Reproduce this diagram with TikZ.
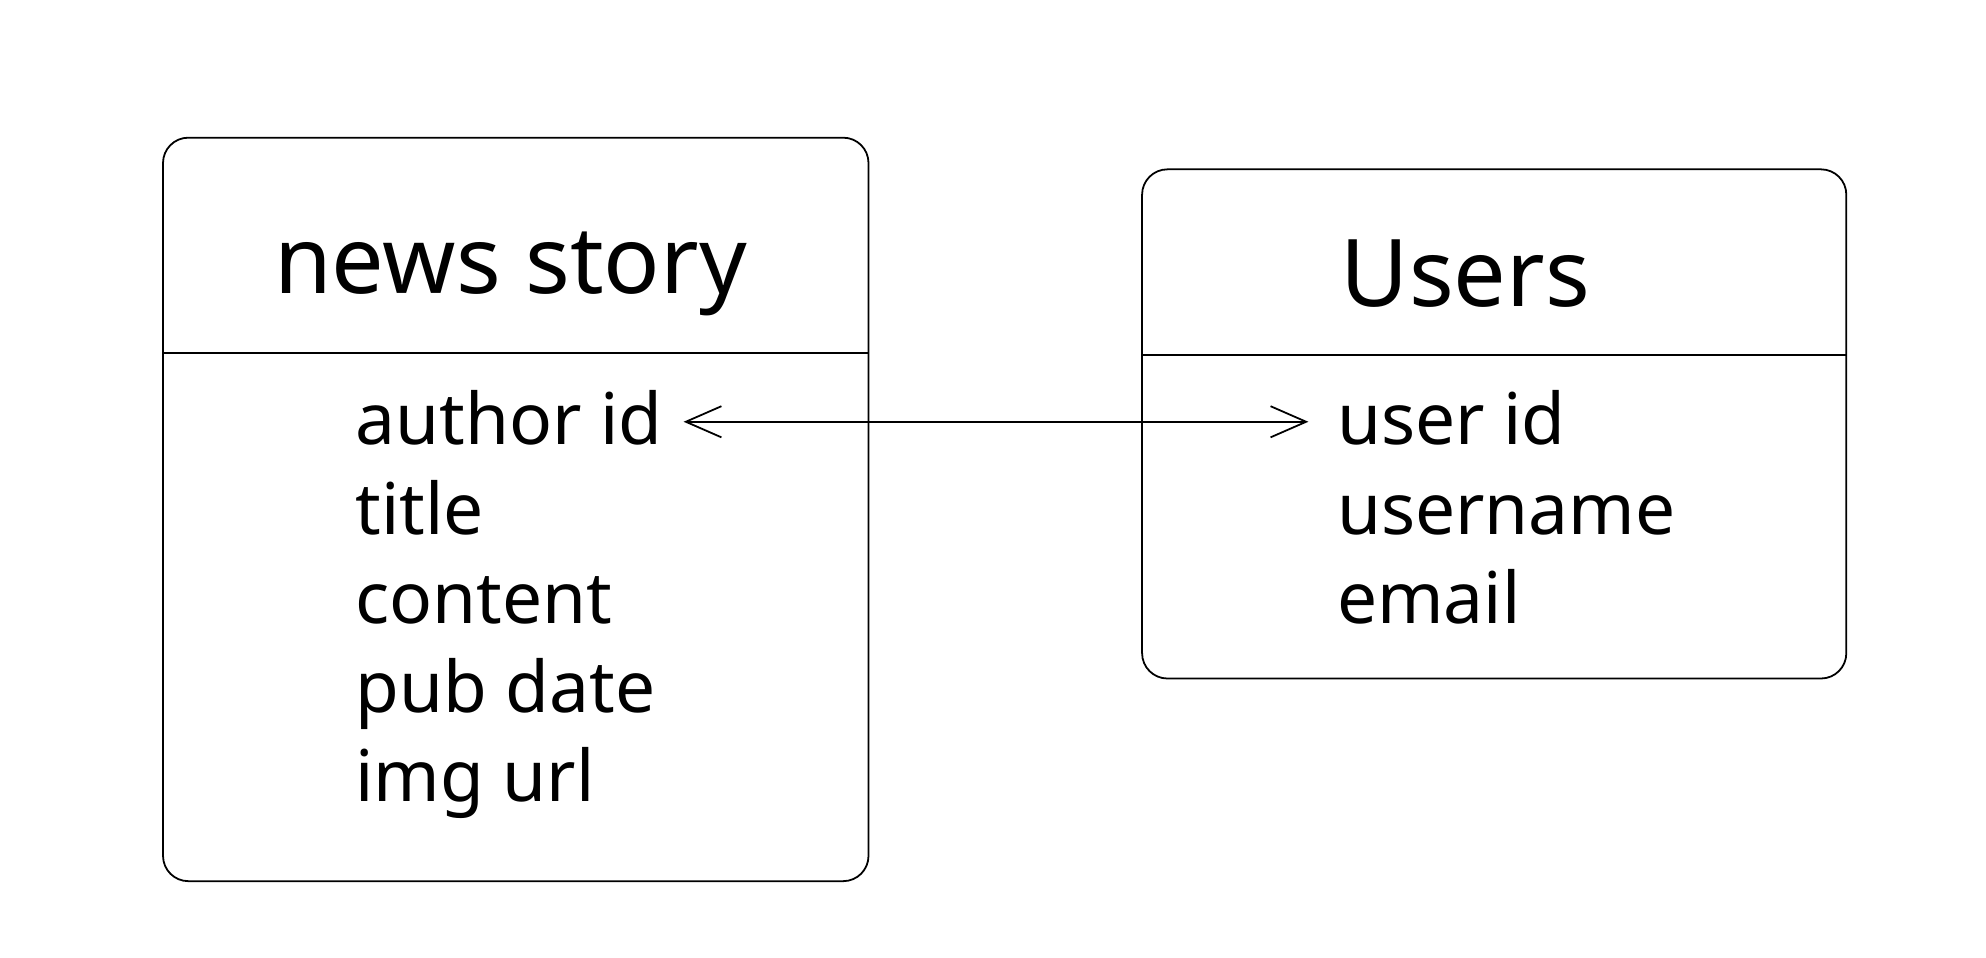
\documentclass[tikz,border=0pt]{standalone}
\usepackage{fontspec}
\setmainfont{Noto Sans}
\usetikzlibrary{positioning, arrows.meta}

\begin{document}
\begin{tikzpicture}[node distance=0pt,
		tablebox/.style={draw, line width=0.4pt, rounded corners=0.2cm, inner sep=0pt, anchor=north west},
		tabletitle/.style={font=\fontsize{21}{25}\selectfont, inner sep=0pt},
		field/.style={font=\fontsize{16}{19}\selectfont, inner sep=0pt, minimum height=0.69cm, text height=1.6ex, text depth=0.3ex}]
		\useasboundingbox (0,0) rectangle (15.68,7.56);
		
		\node[tablebox, minimum width=5.57cm, minimum height=5.87cm] (story) at (1.28,6.48) {};
		\node[tablebox, minimum width=5.56cm, minimum height=4.02cm] (users) at (9.01,6.23) {};
		
		\node[tabletitle] (storytitle) at (4.03,5.40) {news story};
		\node[tabletitle] (userstitle) at (11.57,5.40) {Users};
		
		\draw[line width=0.4pt] ([yshift=-1.71cm]story.north west) -- ([yshift=-1.71cm]story.north east);
		\draw[line width=0.4pt] ([yshift=-1.47cm]users.north west) -- ([yshift=-1.47cm]users.north east);
		
		\node[field, anchor=west]     		(author)  at (2.80,4.17) {author id};
		\node[field, below=of author.south west, anchor=north west]     (title)   {title};
		\node[field, below=of title.south west, anchor=north west]      (content) {content};
		\node[field, below=of content.south west, anchor=north west]    (pubdate) {pub date};
		\node[field, below=of pubdate.south west, anchor=north west]    (imgurl)  {img url};
		
		\node[field, anchor=west]     		(userid)  at (10.55,4.17) {user id};
		\node[field, below=of userid.south west, anchor=north west]     (username) {username};
		\node[field, below=of username.south west, anchor=north west]   (email)    {email};
		
		\draw[line width=0.4pt, {Straight Barb[length=8pt,width=7pt]}-{Straight Barb[length=8pt,width=7pt]},
			shorten <=0.16cm, shorten >=0.22cm] ([yshift=0.06cm]author.east) -- ([yshift=0.06cm]userid.west);
	\end{tikzpicture}
\end{document}
